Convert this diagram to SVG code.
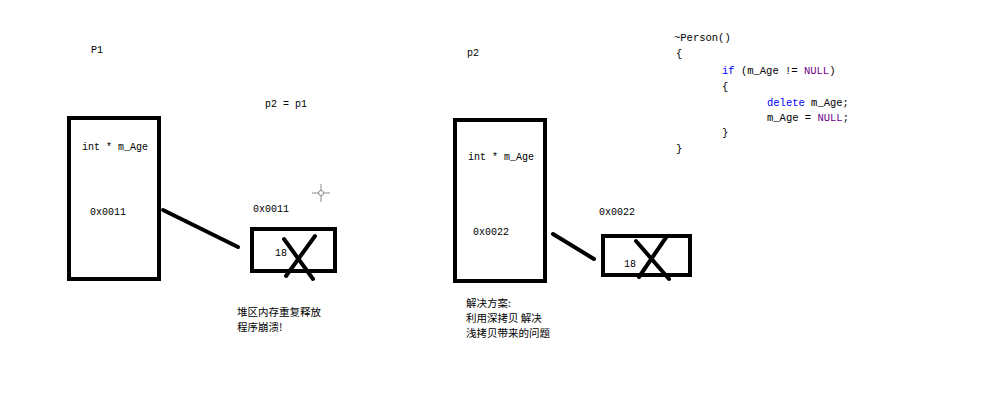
<svg xmlns="http://www.w3.org/2000/svg" width="993" height="407" viewBox="0 0 993 407">
<style>
.t{font-family:"Liberation Mono","DejaVu Sans Mono",monospace;font-size:10px;fill:#000}
.c{font-family:"Liberation Mono","DejaVu Sans Mono",monospace;font-size:10.5px;fill:#000}
.kw{fill:#0000ff}
.nl{fill:#6f008a}
.zh{font-family:"Noto Sans CJK SC","Noto Sans",sans-serif;font-size:10.5px;fill:#000}
.box{fill:none;stroke:#000;stroke-width:4}
.ln{stroke:#000;stroke-width:4;stroke-linecap:round;fill:none}
</style>
<rect width="993" height="407" fill="#fff"/>
<g id="labels">
<text class="t" x="91" y="53">P1</text>
<text class="t" x="265" y="107">p2 = p1</text>
<text class="t" x="467" y="56">p2</text>
</g>
<g id="p1">
<rect class="box" x="69" y="118" width="90" height="161"/>
<text class="t" x="82" y="150">int * m_Age</text>
<text class="t" x="90" y="215">0x0011</text>
</g>
<g id="heap1">
<rect class="box" x="252" y="229" width="83" height="42"/>
<text class="t" x="253" y="212">0x0011</text>
<text class="t" x="275" y="256">18</text>
<line class="ln" x1="284" y1="239" x2="313" y2="279"/>
<line class="ln" x1="315" y1="236" x2="286" y2="276"/>
</g>
<g id="p2">
<rect class="box" x="455" y="120" width="90" height="161"/>
<text class="t" x="468" y="160">int * m_Age</text>
<text class="t" x="473" y="235">0x0022</text>
</g>
<g id="heap2">
<rect class="box" x="603" y="236" width="87" height="39"/>
<text class="t" x="599" y="215">0x0022</text>
<text class="t" x="624" y="267">18</text>
<line class="ln" x1="636" y1="241" x2="669" y2="279"/>
<line class="ln" x1="667" y1="236" x2="639" y2="277"/>
</g>
<g id="connectors">
<line class="ln" x1="163" y1="210" x2="238" y2="247"/>
<line class="ln" x1="553" y1="234" x2="594" y2="259"/>
</g>
<g id="cursor" stroke="#888" stroke-width="1" fill="none">
<line x1="312" y1="193" x2="330" y2="193"/>
<line x1="321" y1="184" x2="321" y2="202"/>
<circle cx="321" cy="193" r="2.5" fill="#fff"/>
</g>
<g id="code">
<text class="c" x="674" y="41">~Person()</text>
<text class="c" x="676" y="57">{</text>
<text class="c" x="722" y="74"><tspan class="kw">if</tspan> (m_Age != <tspan class="nl">NULL</tspan>)</text>
<text class="c" x="722" y="90">{</text>
<text class="c" x="767" y="106"><tspan class="kw">delete</tspan> m_Age;</text>
<text class="c" x="767" y="121">m_Age = <tspan class="nl">NULL</tspan>;</text>
<text class="c" x="722" y="136">}</text>
<text class="c" x="676" y="152">}</text>
</g>
<g id="note1">
<text class="zh" x="237" y="316">堆区内存重复释放</text>
<text class="zh" x="237" y="331">程序崩溃!</text>
</g>
<g id="note2">
<text class="zh" x="466" y="307">解决方案:</text>
<text class="zh" x="466" y="322">利用深拷贝 解决</text>
<text class="zh" x="466" y="337">浅拷贝带来的问题</text>
</g>
</svg>
